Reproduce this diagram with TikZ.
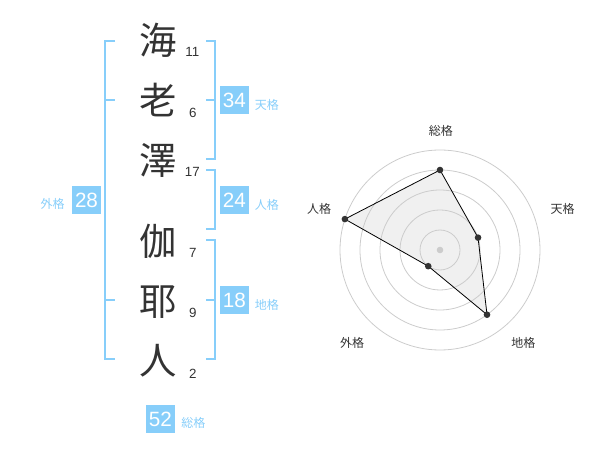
\documentclass[tikz,border=0pt]{standalone}
\usepackage{fontspec}
\setmainfont{Liberation Sans}
\newfontfamily\jpfont{Noto Sans CJK JP}
\definecolor{kakublue}{RGB}{135,206,250}
\definecolor{inkgray}{RGB}{51,51,51}
\definecolor{ringgray}{RGB}{204,204,204}
\definecolor{areagray}{RGB}{240,240,240}
\tikzset{
  kanji/.style={inner sep=0pt, text=inkgray, font=\jpfont\fontsize{28}{28}\selectfont},
  strokes/.style={inner sep=0.75pt, text=inkgray, font=\fontsize{10}{11}\selectfont},
  kakubox/.style={fill=kakublue, text=white, minimum width=21.5pt, minimum height=21.2pt, inner sep=0pt, font=\fontsize{15.5}{16}\selectfont},
  kakulbl/.style={text=kakublue, inner sep=0.75pt, font=\jpfont\fontsize{9}{9}\selectfont},
  brk/.style={draw=kakublue, line width=1.5pt},
  ring/.style={draw=ringgray, line width=0.6pt},
  axlbl/.style={text=inkgray, inner sep=0.75pt, font=\jpfont\fontsize{9}{9}\selectfont},
}
\begin{document}
\begin{tikzpicture}[x=0.75pt,y=0.75pt,yscale=-1,xscale=1]
\useasboundingbox (0,0) rectangle (600,470);
\node[kanji] (k1) at (158.5,40) {海};
\node[kanji] (k2) at (158.5,100) {老};
\node[kanji] (k3) at (158.5,160.5) {澤};
\node[kanji] (k4) at (158.5,241.5) {伽};
\node[kanji] (k5) at (158.5,302) {耶};
\node[kanji] (k6) at (158.5,361) {人};
\node[strokes, anchor=base] (s1) at (192.3,57) {11};
\node[strokes, anchor=base] (s2) at (192.8,117.3) {6};
\node[strokes, anchor=base] (s3) at (192.3,176.7) {17};
\node[strokes, anchor=base] (s4) at (192.8,257.7) {7};
\node[strokes, anchor=base] (s5) at (192.8,317.7) {9};
\node[strokes, anchor=base] (s6) at (192.8,378.3) {2};
\draw[brk] (206,40.7) -- (214.5,40.7) -- (214.5,159.3) -- (206,159.3);
\draw[brk] (206,100) -- (214.5,100);
\draw[brk] (206,170) -- (214.5,170) -- (214.5,229.3) -- (206,229.3);
\draw[brk] (206,240) -- (214.5,240) -- (214.5,359.3) -- (206,359.3);
\draw[brk] (206,300) -- (214.5,300);
\draw[brk] (115,40.7) -- (104.5,40.7) -- (104.5,359.3) -- (115,359.3);
\draw[brk] (104.5,100) -- (115,100);
\draw[brk] (104.5,300) -- (115,300);
\node[kakubox] (ten) at (234.3,100.2) {34};
\node[kakulbl, anchor=west] (tenl) at (253.5,104.5) {天格};
\node[kakubox] (jin) at (234.3,200.2) {24};
\node[kakulbl, anchor=west] (jinl) at (253.5,204.5) {人格};
\node[kakubox] (chi) at (234.3,300.2) {18};
\node[kakulbl, anchor=west] (chil) at (253.5,304.5) {地格};
\node[kakubox] (gai) at (86.5,200) {28};
\node[kakulbl, anchor=east] (gail) at (66,203.5) {外格};
\node[kakubox] (so) at (160.3,419.3) {52};
\node[kakulbl, anchor=west] (sol) at (180,422.5) {総格};
\begin{scope}[shift={(440,250)}]
\coordinate (p-so) at (-90:80);
\coordinate (p-ten) at (-18:40);
\coordinate (p-chi) at (54:80);
\coordinate (p-gai) at (126:20);
\coordinate (p-jin) at (-162:100);
\fill[areagray] (p-so) -- (p-ten) -- (p-chi) -- (p-gai) -- (p-jin) -- cycle;
\foreach \r in {20,40,...,100} {\draw[ring] (0,0) circle (\r);}
\fill[ringgray] (0,0) circle (3.3);
\draw[black, line width=0.6pt] (p-so) -- (p-ten) -- (p-chi) -- (p-gai) -- (p-jin) -- cycle;
\foreach \p in {p-so,p-ten,p-chi,p-gai,p-jin} {\fill[inkgray] (\p) circle (3.3);}
\end{scope}
\node[axlbl] (a-so) at (440.8,130.5) {総格};
\node[axlbl] (a-ten) at (562.5,208.7) {天格};
\node[axlbl] (a-jin) at (319.2,208.7) {人格};
\node[axlbl] (a-gai) at (352,342.5) {外格};
\node[axlbl] (a-chi) at (523.3,342.5) {地格};
\end{tikzpicture}
\end{document}
